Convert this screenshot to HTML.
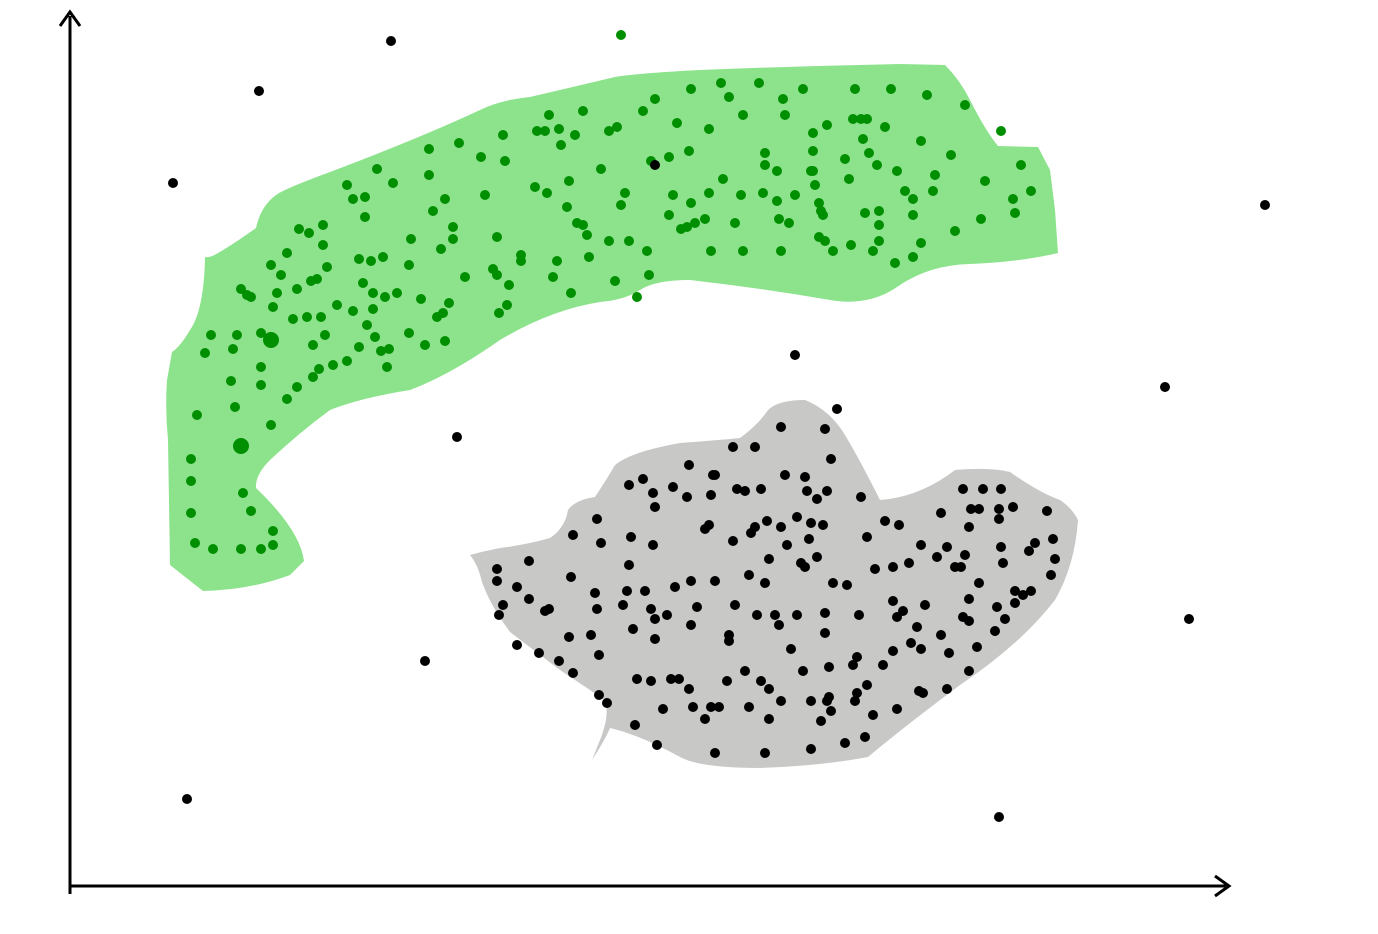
<!DOCTYPE html>
<html><head><meta charset="utf-8">
<style>
html,body{margin:0;padding:0;background:#fff;}
svg{display:block;}
</style></head>
<body>
<svg id="chart" width="1378" height="934" viewBox="0 0 1378 934" xmlns="http://www.w3.org/2000/svg">
  <path fill="#8ce38c" d="M170,565 L203,591 Q250,590 290,575 L304,561 Q300,530 256,488 Q255,475 270,460 Q300,432 330,410 Q360,398 410,390 Q450,375 500,340 Q550,310 600,302 Q625,300 640,290 Q655,280 690,280 Q760,288 830,300 Q870,307 900,285 Q930,265 970,264 Q1020,262 1058,253 L1055,210 L1050,170 L1038,147 L998,146 Q985,130 970,100 Q960,80 945,65 L900,64 Q800,66 700,70 Q640,73 615,77 Q560,90 530,97 Q500,100 480,110 Q420,138 330,172 Q300,183 285,190 Q262,200 256,228 Q232,245 218,253 Q210,258 205,257 Q204,310 190,330 Q180,347 172,352 L167,380 Q165,410 168,440 L170,565 Z"/>
  <path fill="#c8c9c7" d="M470,555 Q478,565 482,582 Q490,605 510,632 Q540,655 560,670 Q590,690 605,700 Q610,715 600,740 L592,760 Q605,740 610,728 Q640,735 680,757 Q700,768 760,768 Q820,766 868,757 Q900,730 960,685 Q1020,645 1055,600 Q1075,565 1078,520 Q1072,508 1060,500 Q1040,493 1010,472 Q990,467 955,470 Q920,497 880,500 Q860,460 845,435 Q830,410 805,400 Q778,400 768,410 Q758,425 740,438 Q720,440 680,443 Q630,452 615,465 Q605,482 595,497 Q575,500 568,510 Q565,528 550,538 Q525,545 500,548 Q480,552 470,555 Z"/>
  <g id="axes">
    <line x1="70" y1="894" x2="70" y2="16" stroke="#000" stroke-width="3"/>
    <path d="M60,26 L70,12 L80,26" fill="none" stroke="#000" stroke-width="3"/>
    <line x1="69" y1="886" x2="1226" y2="886" stroke="#000" stroke-width="3"/>
    <path d="M1215,876 L1229,886 L1215,896" fill="none" stroke="#000" stroke-width="3"/>
  </g>
  <g id="green-points"></g>
  <g id="black-points"></g>
</svg>
<script>
// data coordinates (domain units)
const greenX = [621,1001,965,927,891,855,803,783,759,721,691,729,655,643,583,549,537,545,559,575,561,609,617,503,459,429,481,505,429,377,347,393,365,353,445,485,433,365,323,299,309,323,287,271,281,277,247,241,251,273,261,237,211,205,233,273,261,231,261,235,197,271,241,191,191,243,251,191,273,195,213,241,261,273,297,287,313,319,333,347,359,367,375,381,389,387,409,425,445,437,443,449,421,397,385,373,353,337,321,325,313,293,307,297,311,317,327,363,373,359,371,383,409,411,441,453,453,465,493,497,509,507,499,497,521,521,557,553,571,589,609,615,629,647,649,637,587,583,577,567,547,535,569,601,625,621,651,669,689,677,709,743,785,813,827,853,861,867,885,921,951,985,1021,1031,1013,1015,981,955,935,933,913,913,921,913,895,879,879,879,873,865,851,833,825,819,823,821,819,815,811,813,845,849,869,863,877,897,905,779,789,781,743,711,735,705,681,687,695,669,673,709,723,765,765,777,777,763,741,795,813,691];
const greenY = [35,131,105,95,89,89,89,99,83,83,89,97,99,111,111,115,131,131,129,135,145,131,127,135,143,149,157,161,175,169,185,183,197,199,199,195,211,217,225,229,233,245,253,265,275,293,295,289,297,307,333,335,335,353,349,339,367,381,385,407,415,425,445,459,481,493,511,513,531,543,549,549,549,545,387,399,377,369,365,361,347,325,337,351,349,367,333,345,341,317,313,303,299,293,297,309,311,305,317,335,345,319,317,289,281,279,267,283,293,259,261,257,265,239,249,239,227,277,269,275,285,305,313,237,255,261,261,277,293,257,241,281,241,251,275,297,235,225,223,207,193,187,181,169,193,205,161,157,151,123,129,115,115,133,125,119,119,119,127,141,155,181,165,191,199,213,219,231,175,191,199,215,243,257,263,211,225,241,251,213,245,251,241,237,215,211,203,185,171,151,159,179,153,139,165,171,191,219,223,251,251,251,223,219,229,227,223,215,195,193,179,165,153,171,201,193,195,195,171,203];
const bigGreenX = [271,241];
const bigGreenY = [340,446];
const blackX = [391,259,173,655,1265,795,1165,837,457,1189,425,187,999,781,825,733,755,831,689,643,629,653,673,687,713,715,737,745,761,785,805,807,827,817,861,711,655,597,573,601,631,653,705,709,733,751,755,767,781,797,811,823,809,787,769,801,805,817,867,885,899,941,963,983,1001,971,979,999,1013,999,969,965,947,921,937,955,961,909,893,875,1001,1003,1029,1035,1053,1055,1051,1047,529,497,497,517,529,545,549,571,595,629,627,645,675,691,715,749,765,697,735,757,775,797,833,847,893,903,925,897,859,825,779,825,791,729,729,691,667,655,651,623,597,591,569,599,633,655,503,499,517,539,559,573,599,607,637,651,671,679,689,727,745,761,769,781,803,829,857,853,867,883,893,911,921,917,941,949,977,969,963,969,979,995,1005,1015,1015,1023,1031,997,969,947,919,923,897,873,855,831,827,829,857,811,821,811,845,865,765,769,749,711,719,705,693,663,635,657,715];
const blackY = [41,91,183,165,205,355,387,409,437,619,661,799,817,427,429,447,447,459,465,479,485,493,487,497,475,475,489,491,489,475,477,491,491,499,497,495,507,519,535,543,537,545,529,525,541,533,527,521,527,517,523,525,539,545,559,563,567,557,537,521,525,513,489,489,489,509,509,509,507,519,527,555,547,545,557,567,567,563,567,569,547,563,551,543,539,559,575,511,561,569,581,587,599,611,609,577,593,565,591,591,587,581,581,575,583,607,605,615,615,615,583,585,601,611,605,617,615,613,625,633,649,635,641,625,615,619,609,605,609,635,637,655,629,639,605,615,645,653,661,673,695,703,679,681,679,679,689,681,671,681,689,701,671,667,657,665,685,665,651,643,649,627,635,653,647,621,617,599,583,631,619,603,591,595,591,607,671,689,691,693,709,715,701,711,701,697,693,701,721,749,743,737,753,719,707,707,707,719,707,709,725,745,753];

// axis scales
const xDomain = [70, 1230], xRange = [70, 1230];
const yDomain = [886, 16], yRange = [886, 16];
function xs(v){ return xRange[0] + (v - xDomain[0]) / (xDomain[1] - xDomain[0]) * (xRange[1] - xRange[0]); }
function ys(v){ return yRange[0] + (v - yDomain[0]) / (yDomain[1] - yDomain[0]) * (yRange[1] - yRange[0]); }

const NS = "http://www.w3.org/2000/svg";
function drawSeries(gid, X, Y, r, color, name){
  const g = document.getElementById(gid);
  const n = Math.min(X.length, Y.length);
  for (let i = 0; i < n; i++){
    const c = document.createElementNS(NS, "circle");
    c.setAttribute("cx", xs(X[i]));
    c.setAttribute("cy", ys(Y[i]));
    c.setAttribute("r", r);
    c.setAttribute("fill", color);
    
    
    g.appendChild(c);
  }
}
drawSeries("green-points", greenX, greenY, 5, "#008f00", "green-point");
drawSeries("green-points", bigGreenX, bigGreenY, 8, "#008f00", "green-point-large");
drawSeries("black-points", blackX, blackY, 5, "#000", "black-point");
</script>
</body></html>
